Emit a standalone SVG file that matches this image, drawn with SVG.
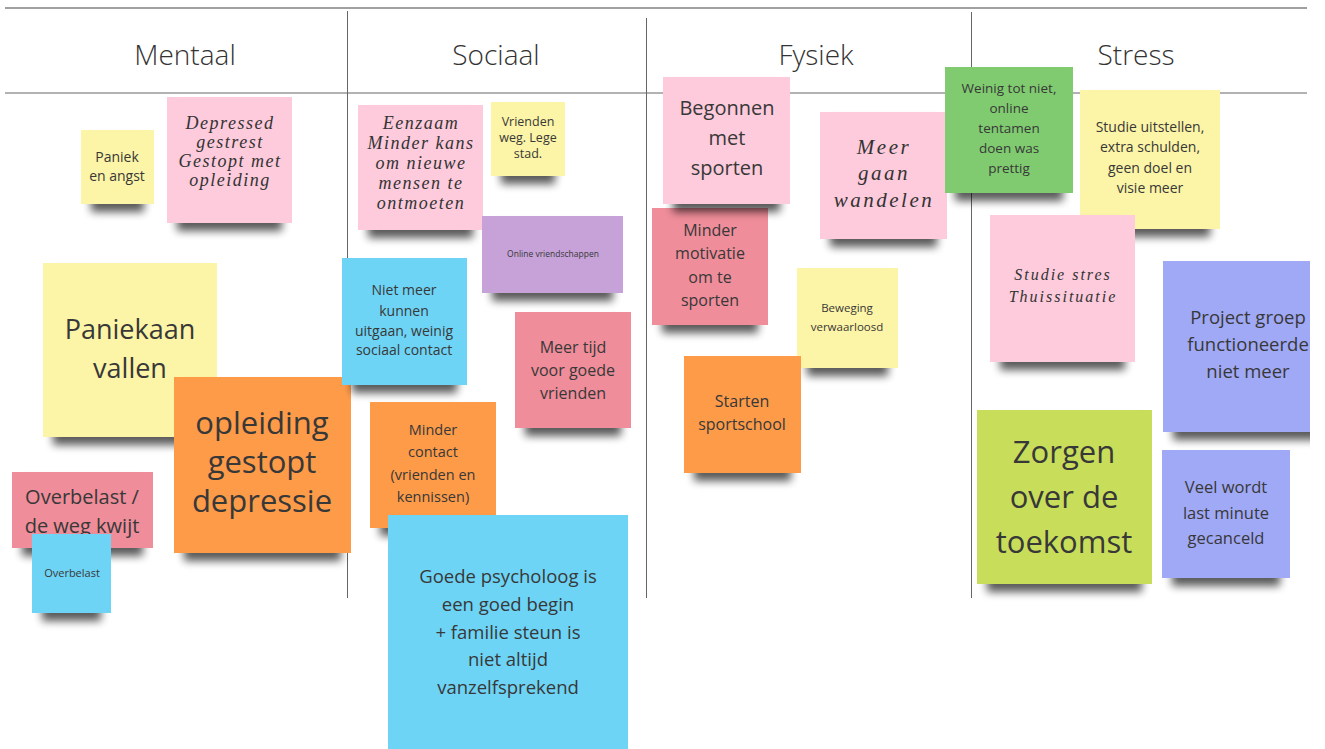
<svg xmlns="http://www.w3.org/2000/svg" width="1325" height="749" viewBox="0 0 1325 749">
<defs>
<filter id="sh" x="-10%" y="-10%" width="120%" height="135%">
<feMorphology in="SourceAlpha" operator="erode" radius="10 0" result="e"/>
<feOffset in="e" dy="8" result="o"/>
<feGaussianBlur in="o" stdDeviation="4" result="b"/>
<feComponentTransfer in="b" result="c"><feFuncA type="linear" slope="0.65"/></feComponentTransfer>
<feMerge><feMergeNode in="c"/><feMergeNode in="SourceGraphic"/></feMerge>
</filter>
<clipPath id="edge"><rect x="0" y="0" width="1310" height="749"/></clipPath>
<style>
.n{filter:url(#sh)}
.y{fill:#fcf4a6}.p{fill:#fdcbdc}.o{fill:#fd9b4a}.r{fill:#ef8d9a}.b{fill:#6dd4f6}.v{fill:#c6a2d8}.g{fill:#80cb6f}.l{fill:#c8de5a}.w{fill:#a0a9f6}
text{font-family:"Open Sans","Noto Sans","Liberation Sans",sans-serif;fill:#383838;text-anchor:middle}
.h{font-size:28px;fill:#333;font-weight:300}
.s{font-family:"Liberation Serif","DejaVu Serif",serif;font-style:italic;fill:#333}
.ln{stroke:#666;stroke-width:1;fill:none}
</style>
</defs>
<rect width="1325" height="749" fill="#ffffff"/>
<g id="board">
<line x1="5" y1="8" x2="1307" y2="8" style="stroke:#a0a0a0;stroke-width:2"/>
<line class="ln" x1="5" y1="93" x2="1307" y2="93"/>
<line class="ln" x1="347.5" y1="11" x2="347.5" y2="598"/>
<line class="ln" x1="646.5" y1="18" x2="646.5" y2="598"/>
<line class="ln" x1="971.5" y1="12" x2="971.5" y2="598"/>
<text class="h" x="185" y="65">Mentaal</text>
<text class="h" x="496" y="65">Sociaal</text>
<text class="h" x="816" y="65">Fysiek</text>
<text class="h" x="1136" y="65">Stress</text>
</g>
<g id="connectors"/>

<g id="n1"><rect class="n y" x="81" y="130" width="73" height="74"/>
<text font-size="14"><tspan x="117" y="162">Paniek</tspan><tspan x="117" y="181">en angst</tspan></text></g>
<g id="n2"><rect class="n p" x="167" y="97" width="125" height="126"/>
<text class="s" font-size="18" letter-spacing="1.5"><tspan x="230" y="129">Depressed</tspan><tspan x="230" y="148">gestrest</tspan><tspan x="230" y="167">Gestopt met</tspan><tspan x="230" y="186">opleiding</tspan></text></g>
<g id="n3"><rect class="n y" x="43" y="263" width="174" height="174"/>
<text font-size="27"><tspan x="130" y="339">Paniekaan</tspan><tspan x="130" y="378">vallen</tspan></text></g>
<g id="n4"><rect class="n o" x="174" y="377" width="177" height="176"/>
<text font-size="31"><tspan x="262" y="434">opleiding</tspan><tspan x="262" y="473">gestopt</tspan><tspan x="262" y="512">depressie</tspan></text></g>
<g id="n5"><rect class="n r" x="12" y="472" width="141" height="76"/>
<text font-size="20"><tspan x="82" y="504">Overbelast /</tspan><tspan x="82" y="533">de weg kwijt</tspan></text></g>
<g id="n6"><rect class="n b" x="32" y="534" width="79" height="79"/>
<text font-size="11"><tspan x="72" y="577">Overbelast</tspan></text></g>

<g id="n7"><rect class="n p" x="358" y="105" width="125" height="125"/>
<text class="s" font-size="18" letter-spacing="1.5"><tspan x="421" y="129">Eenzaam</tspan><tspan x="421" y="149">Minder kans</tspan><tspan x="421" y="169">om nieuwe</tspan><tspan x="421" y="189">mensen te</tspan><tspan x="421" y="209">ontmoeten</tspan></text></g>
<g id="n8"><rect class="n y" x="491" y="102" width="74" height="74"/>
<text font-size="12.5"><tspan x="528" y="126">Vrienden</tspan><tspan x="528" y="142">weg. Lege</tspan><tspan x="528" y="158">stad.</tspan></text></g>
<g id="n9"><rect class="n v" x="482" y="216" width="141" height="77"/>
<text font-size="8.5"><tspan x="553" y="257">Online vriendschappen</tspan></text></g>
<g id="n10"><rect class="n b" x="342" y="258" width="125" height="127"/>
<text font-size="14"><tspan x="404" y="295">Niet meer</tspan><tspan x="404" y="316">kunnen</tspan><tspan x="404" y="336">uitgaan, weinig</tspan><tspan x="404" y="355">sociaal contact</tspan></text></g>
<g id="n11"><rect class="n r" x="515" y="312" width="116" height="116"/>
<text font-size="16"><tspan x="573" y="353">Meer tijd</tspan><tspan x="573" y="376">voor goede</tspan><tspan x="573" y="399">vrienden</tspan></text></g>
<g id="n12"><rect class="n o" x="370" y="402" width="126" height="126"/>
<text font-size="14.5"><tspan x="433" y="435">Minder</tspan><tspan x="433" y="457">contact</tspan><tspan x="433" y="480">(vrienden en</tspan><tspan x="433" y="502">kennissen)</tspan></text></g>
<g id="n13"><rect class="n b" x="388" y="515" width="240" height="250"/>
<text font-size="18.5"><tspan x="508" y="583">Goede psycholoog is</tspan><tspan x="508" y="611">een goed begin</tspan><tspan x="508" y="639">+ familie steun is</tspan><tspan x="508" y="666">niet altijd</tspan><tspan x="508" y="694">vanzelfsprekend</tspan></text></g>

<g id="n16"><rect class="n r" x="652" y="208" width="116" height="117"/>
<text font-size="16"><tspan x="710" y="236">Minder</tspan><tspan x="710" y="259">motivatie</tspan><tspan x="710" y="283">om te</tspan><tspan x="710" y="306">sporten</tspan></text></g>
<g id="n14"><rect class="n p" x="663" y="77" width="127" height="127"/>
<text font-size="20"><tspan x="727" y="115">Begonnen</tspan><tspan x="727" y="145">met</tspan><tspan x="727" y="175">sporten</tspan></text></g>
<g id="n15"><rect class="n p" x="820" y="112" width="127" height="127"/>
<text class="s" font-size="21" letter-spacing="2.5"><tspan x="884" y="154">Meer</tspan><tspan x="884" y="180">gaan</tspan><tspan x="884" y="207">wandelen</tspan></text></g>
<g id="n17"><rect class="n y" x="797" y="268" width="101" height="100"/>
<text font-size="11.5"><tspan x="847" y="312">Beweging</tspan><tspan x="847" y="331">verwaarloosd</tspan></text></g>
<g id="n18"><rect class="n o" x="684" y="356" width="117" height="117"/>
<text font-size="16"><tspan x="742" y="407">Starten</tspan><tspan x="742" y="430">sportschool</tspan></text></g>

<g id="n19"><rect class="n g" x="945" y="67" width="128" height="126"/>
<text font-size="13.5"><tspan x="1009" y="93">Weinig tot niet,</tspan><tspan x="1009" y="113">online</tspan><tspan x="1009" y="133">tentamen</tspan><tspan x="1009" y="153">doen was</tspan><tspan x="1009" y="173">prettig</tspan></text></g>
<g id="n20"><rect class="n y" x="1080" y="90" width="140" height="139"/>
<text font-size="14"><tspan x="1150" y="132">Studie uitstellen,</tspan><tspan x="1150" y="152">extra schulden,</tspan><tspan x="1150" y="173">geen doel en</tspan><tspan x="1150" y="193">visie meer</tspan></text></g>
<g id="n21"><rect class="n p" x="990" y="215" width="145" height="147"/>
<text class="s" font-size="16" letter-spacing="2"><tspan x="1063" y="280">Studie stres</tspan><tspan x="1063" y="302">Thuissituatie</tspan></text></g>
<g id="n22" clip-path="url(#edge)"><rect class="n w" x="1163" y="261" width="170" height="171"/>
<text font-size="18.5"><tspan x="1248" y="324">Project groep</tspan><tspan x="1248" y="351">functioneerde</tspan><tspan x="1248" y="378">niet meer</tspan></text></g>
<g id="n23"><rect class="n l" x="977" y="410" width="175" height="174"/>
<text font-size="31"><tspan x="1064" y="463">Zorgen</tspan><tspan x="1064" y="508">over de</tspan><tspan x="1064" y="553">toekomst</tspan></text></g>
<g id="n24"><rect class="n w" x="1162" y="450" width="128" height="128"/>
<text font-size="16.5"><tspan x="1226" y="493">Veel wordt</tspan><tspan x="1226" y="519">last minute</tspan><tspan x="1226" y="544">gecanceld</tspan></text></g>
</svg>
